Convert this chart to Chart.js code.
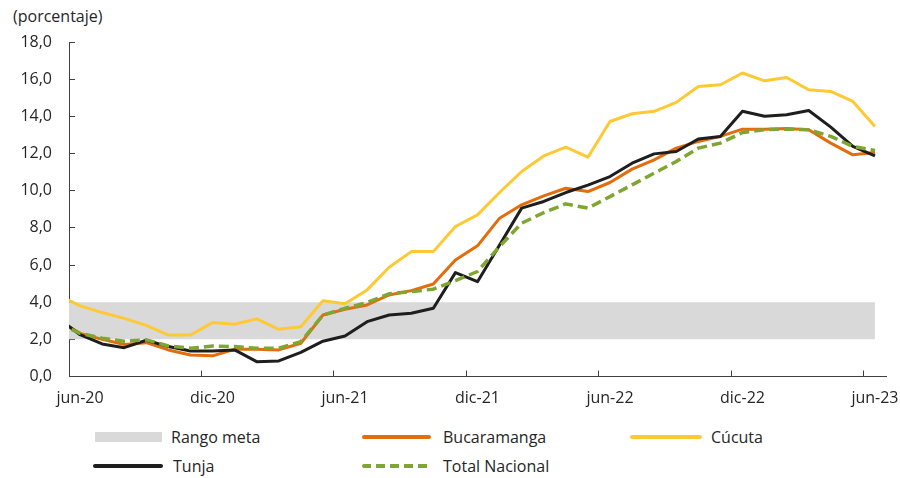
<!DOCTYPE html>
<html>
<head>
<meta charset="utf-8">
<script src="https://cdn.jsdelivr.net/npm/chart.js@4.4.0/dist/chart.umd.min.js"></script>
<style>
  body { margin: 0; background: #fff; font-family: "Open Sans", sans-serif; color: #262626; }
  #wrap { position: relative; width: 900px; height: 478px; }
  #box { position: absolute; left: 0; top: 0; width: 900px; height: 410px; }
  #titulo { position: absolute; left: 13px; top: 6px; font-size: 16px; line-height: 20px; }
  .txt { position: absolute; font-size: 16px; line-height: 20px; white-space: nowrap; }
  .sw { position: absolute; }
</style>
</head>
<body>
<div id="wrap">
  <div id="titulo">(porcentaje)</div>
  <div id="box"><canvas id="grafico"></canvas></div>
  <div id="leyenda"></div>
</div>
<script>
// meses (may-20 solo sirve para que las lineas arranquen en el borde del eje)
const meses = ['may-20','jun-20','jul-20','ago-20','sep-20','oct-20','nov-20','dic-20',
  'ene-21','feb-21','mar-21','abr-21','may-21','jun-21','jul-21','ago-21','sep-21','oct-21','nov-21','dic-21',
  'ene-22','feb-22','mar-22','abr-22','may-22','jun-22','jul-22','ago-22','sep-22','oct-22','nov-22','dic-22',
  'ene-23','feb-23','mar-23','abr-23','may-23','jun-23'];

const bucaramanga = [3.04, 2.32, 2.00, 1.72, 1.82, 1.43, 1.16, 1.11, 1.46, 1.46, 1.43, 1.79, 3.31, 3.62, 3.85, 4.39,
  4.62, 4.98, 6.27, 7.03, 8.52, 9.24, 9.72, 10.13, 9.95, 10.44, 11.16, 11.66, 12.29, 12.65, 12.92, 13.31,
  13.31, 13.35, 13.28, 12.56, 11.93, 12.06];
const cucuta = [4.40, 3.80, 3.44, 3.13, 2.75, 2.23, 2.23, 2.90, 2.81, 3.10, 2.54, 2.68, 4.08, 3.92, 4.66, 5.88,
  6.72, 6.72, 8.07, 8.70, 9.90, 11.03, 11.87, 12.34, 11.80, 13.72, 14.14, 14.27, 14.75, 15.61, 15.70, 16.33,
  15.91, 16.09, 15.43, 15.34, 14.80, 13.45];
const tunja = [3.15, 2.25, 1.75, 1.55, 1.95, 1.61, 1.37, 1.37, 1.43, 0.80, 0.84, 1.30, 1.90, 2.18, 2.95, 3.31,
  3.40, 3.67, 5.59, 5.10, 7.08, 9.06, 9.42, 9.90, 10.30, 10.76, 11.48, 11.98, 12.11, 12.78, 12.92, 14.27,
  14.00, 14.08, 14.31, 13.42, 12.38, 11.87];
const totalNacional = [2.88, 2.32, 2.06, 1.90, 1.97, 1.64, 1.52, 1.64, 1.61, 1.52, 1.52, 1.88, 3.30, 3.67, 3.98, 4.45,
  4.57, 4.70, 5.16, 5.65, 7.00, 8.25, 8.82, 9.29, 9.06, 9.68, 10.31, 10.94, 11.57, 12.29, 12.56, 13.13,
  13.28, 13.31, 13.28, 12.92, 12.38, 12.16];
const rangoInf = meses.map(() => 2.0);
const rangoSup = meses.map(() => 4.0);

const colores = {
  rango: '#D9D9D9',
  bucaramanga: '#E46C0A',
  cucuta: '#FFC933',
  tunja: '#1E1E1E',
  total: '#7EA630'
};
const texto = '#262626';
const eje = '#404040';
const fuente = { family: 'Open Sans', size: 16 };

function linea(label, data, color, orden, extra) {
  return Object.assign({
    label: label,
    data: data,
    borderColor: color,
    backgroundColor: color,
    borderWidth: 3,
    pointRadius: 0,
    tension: 0,
    fill: false,
    clip: 0,
    borderJoinStyle: 'round',
    order: orden
  }, extra || {});
}

const ctx = document.getElementById('grafico').getContext('2d');
new Chart(ctx, {
  type: 'line',
  data: {
    labels: meses,
    datasets: [
      linea('inf', rangoInf, 'rgba(0,0,0,0)', 6, { borderWidth: 0 }),
      linea('Rango meta', rangoSup, 'rgba(0,0,0,0)', 5, { borderWidth: 0, fill: '-1', backgroundColor: colores.rango }),
      linea('Bucaramanga', bucaramanga, colores.bucaramanga, 4),
      linea('Cúcuta', cucuta, colores.cucuta, 3),
      linea('Tunja', tunja, colores.tunja, 2),
      linea('Total Nacional', totalNacional, colores.total, 1, { borderDash: [10, 5], borderWidth: 3.5 })
    ]
  },
  options: {
    responsive: true,
    maintainAspectRatio: false,
    animation: false,
    layout: { padding: { top: 42, right: 14, left: 0, bottom: 0 } },
    plugins: { legend: { display: false }, tooltip: { enabled: false } },
    scales: {
      x: {
        type: 'category',
        min: 'jun-20',
        max: 'jun-23',
        offset: true,
        grid: {
          offset: true,
          drawOnChartArea: false,
          tickLength: -6,
          tickColor: c => (c.index % 6 === 0 ? eje : 'rgba(0,0,0,0)')
        },
        border: { display: true, color: eje, width: 1 },
        ticks: {
          autoSkip: false,
          maxRotation: 0,
          minRotation: 0,
          padding: 18,
          color: texto,
          font: fuente,
          callback: function (v, i) { return i % 6 === 0 ? this.getLabelForValue(v) : ''; }
        },
        afterFit: s => { s.height = 33.5; s.paddingLeft = 0; s.paddingRight = 0; }
      },
      y: {
        min: 0,
        max: 18,
        grid: { drawOnChartArea: false, tickLength: -6, tickColor: eje },
        border: { display: true, color: eje, width: 1 },
        ticks: {
          stepSize: 2,
          padding: 23,
          color: texto,
          font: fuente,
          callback: v => v.toFixed(1).replace('.', ',')
        },
        afterFit: s => { s.width = 69; s.paddingTop = 0; s.paddingBottom = 0; }
      }
    }
  }
});

// leyenda en tres columnas, dos filas
const leyenda = [
  { txt: 'Rango meta', tipo: 'caja', color: colores.rango, x: 95, w: 67, tx: 171, y: 437 },
  { txt: 'Bucaramanga', tipo: 'linea', color: colores.bucaramanga, x: 362, w: 69, tx: 443, y: 437 },
  { txt: 'Cúcuta', tipo: 'linea', color: colores.cucuta, x: 630, w: 72, tx: 711, y: 437 },
  { txt: 'Tunja', tipo: 'linea', color: colores.tunja, x: 93, w: 70, tx: 173, y: 466 },
  { txt: 'Total Nacional', tipo: 'guion', color: colores.total, x: 362, w: 69, tx: 443, y: 466 }
];
const cont = document.getElementById('leyenda');
leyenda.forEach(it => {
  const sw = document.createElement('div');
  sw.className = 'sw';
  sw.style.left = it.x + 'px';
  sw.style.width = it.w + 'px';
  if (it.tipo === 'caja') {
    sw.style.top = (it.y - 5) + 'px';
    sw.style.height = '10px';
    sw.style.background = it.color;
  } else {
    sw.style.top = (it.y - 2) + 'px';
    sw.style.height = (it.tipo === 'guion' ? 4 : 3.5) + 'px';
    sw.style.borderRadius = '2px';
    sw.style.background = it.tipo === 'guion'
      ? 'repeating-linear-gradient(90deg,' + it.color + ' 0 9px, transparent 9px 14px)'
      : it.color;
  }
  cont.appendChild(sw);
  const t = document.createElement('div');
  t.className = 'txt';
  t.style.left = it.tx + 'px';
  t.style.top = (it.y - 10) + 'px';
  t.textContent = it.txt;
  cont.appendChild(t);
});
</script>
</body>
</html>
